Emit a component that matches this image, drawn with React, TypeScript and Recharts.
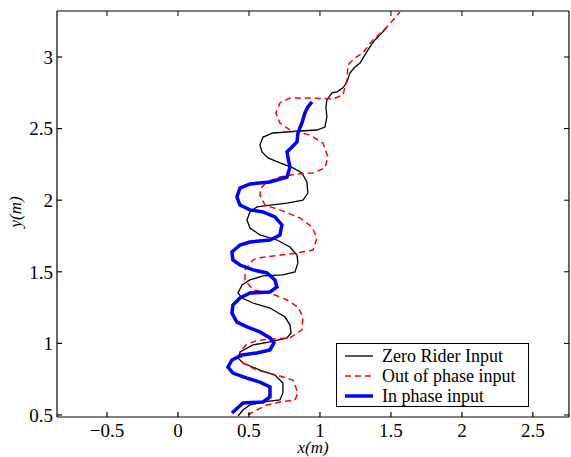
import { LineChart, Line, XAxis, YAxis, Legend, Label, ReferenceLine } from "recharts";

// (x in m, y in m)
const zeroX = [0.423, 0.458, 0.507, 0.599, 0.718, 0.739, 0.739, 0.683, 0.577, 0.458, 0.423, 0.437, 0.528, 0.648, 0.768, 0.796, 0.789, 0.754, 0.648, 0.528, 0.451, 0.423, 0.451, 0.507, 0.599, 0.739, 0.824, 0.845, 0.838, 0.789, 0.697, 0.577, 0.507, 0.486, 0.507, 0.556, 0.648, 0.768, 0.880, 0.915, 0.908, 0.873, 0.810, 0.718, 0.634, 0.592, 0.577, 0.599, 0.669, 0.768, 0.859, 0.979, 1.035, 1.049, 1.042, 1.049, 1.085, 1.120, 1.162, 1.190, 1.211, 1.246, 1.282, 1.317, 1.352, 1.387, 1.437, 1.472];
const zeroY = [0.493, 0.535, 0.570, 0.591, 0.605, 0.654, 0.723, 0.779, 0.814, 0.863, 0.898, 0.940, 0.989, 1.010, 1.038, 1.073, 1.128, 1.184, 1.247, 1.282, 1.317, 1.352, 1.408, 1.443, 1.471, 1.478, 1.499, 1.561, 1.617, 1.673, 1.722, 1.757, 1.806, 1.862, 1.918, 1.953, 1.966, 1.980, 2.001, 2.050, 2.127, 2.190, 2.225, 2.260, 2.295, 2.337, 2.385, 2.441, 2.469, 2.476, 2.483, 2.490, 2.511, 2.581, 2.651, 2.700, 2.749, 2.756, 2.784, 2.825, 2.888, 2.930, 2.958, 3.014, 3.070, 3.119, 3.168, 3.209];

const outX = [0.493, 0.556, 0.627, 0.718, 0.824, 0.845, 0.810, 0.697, 0.556, 0.458, 0.437, 0.486, 0.549, 0.648, 0.789, 0.873, 0.880, 0.845, 0.768, 0.648, 0.528, 0.472, 0.472, 0.528, 0.556, 0.669, 0.838, 0.951, 0.979, 0.944, 0.859, 0.718, 0.613, 0.577, 0.585, 0.627, 0.718, 0.838, 0.951, 1.035, 1.056, 1.021, 0.930, 0.789, 0.718, 0.690, 0.718, 0.789, 0.930, 1.092, 1.162, 1.190, 1.197, 1.246, 1.303, 1.373, 1.472, 1.563];
const outY = [0.500, 0.535, 0.570, 0.591, 0.605, 0.654, 0.744, 0.779, 0.814, 0.863, 0.940, 0.996, 1.017, 1.031, 1.038, 1.094, 1.184, 1.254, 1.303, 1.352, 1.373, 1.443, 1.513, 1.582, 1.596, 1.610, 1.631, 1.652, 1.736, 1.813, 1.876, 1.932, 1.966, 2.036, 2.085, 2.127, 2.162, 2.183, 2.190, 2.225, 2.302, 2.399, 2.455, 2.490, 2.539, 2.609, 2.679, 2.714, 2.714, 2.707, 2.735, 2.839, 2.944, 2.993, 3.028, 3.119, 3.209, 3.314];

const inX = [0.380, 0.458, 0.599, 0.648, 0.648, 0.577, 0.486, 0.387, 0.352, 0.380, 0.451, 0.556, 0.648, 0.676, 0.648, 0.577, 0.486, 0.415, 0.380, 0.387, 0.437, 0.507, 0.648, 0.697, 0.683, 0.627, 0.528, 0.437, 0.387, 0.380, 0.437, 0.507, 0.648, 0.718, 0.732, 0.683, 0.599, 0.507, 0.437, 0.415, 0.437, 0.507, 0.648, 0.768, 0.789, 0.775, 0.768, 0.803, 0.838, 0.845, 0.873, 0.894, 0.915, 0.944];
const inY = [0.514, 0.584, 0.591, 0.626, 0.696, 0.730, 0.758, 0.793, 0.835, 0.884, 0.919, 0.933, 0.954, 1.003, 1.038, 1.080, 1.115, 1.149, 1.212, 1.268, 1.317, 1.352, 1.359, 1.394, 1.443, 1.492, 1.513, 1.547, 1.582, 1.638, 1.687, 1.708, 1.722, 1.757, 1.827, 1.883, 1.918, 1.932, 1.966, 2.022, 2.085, 2.113, 2.127, 2.162, 2.232, 2.295, 2.337, 2.372, 2.406, 2.469, 2.539, 2.609, 2.651, 2.686];

const xTicks = [-0.5, 0, 0.5, 1, 1.5, 2, 2.5];
const yTicks = [0.5, 1, 1.5, 2, 2.5, 3];
const xDomain: [number, number] = [-0.852, 2.754];
const yDomain: [number, number] = [0.486, 3.321];

const toPoints = (xs: number[], ys: number[]) => xs.map((x, i) => ({ x, y: ys[i] }));

const series = [
  { name: "Zero Rider Input", data: toPoints(zeroX, zeroY), color: "#000000", width: 1.3, dash: undefined },
  { name: "Out of phase input", data: toPoints(outX, outY), color: "#ff0000", width: 1.5, dash: "6 4" },
  { name: "In phase input", data: toPoints(inX, inY), color: "#0000ff", width: 3.5, dash: undefined }
];

const font = '"Liberation Serif", "Times New Roman", serif';
const fmt = (v: number) => (v < 0 ? "\u2212" + Math.abs(v) : String(v));

// inward tick length of the top / right frame, in data units (5px)
const tickX = (5 * (xDomain[1] - xDomain[0])) / 512;
const tickY = (5 * (yDomain[1] - yDomain[0])) / 406;

function LegendBox() {
  return (
    <div style={legendBox}>
      {series.map((s) => (
        <div key={s.name} style={{ display: "flex", alignItems: "center", height: 20 }}>
          <svg width={28} height={6} style={{ marginRight: 9 }}>
            <line x1={0} y1={3} x2={28} y2={3} stroke={s.color}
              strokeWidth={s.width} strokeDasharray={s.dash} />
          </svg>
          <span>{s.name}</span>
        </div>
      ))}
    </div>
  );
}

export default function App() {
  return (
    <div style={{ position: "absolute", left: 0, top: 0, background: "#fff", fontFamily: font }}>
      <LineChart width={571} height={457} margin={{ top: 11, right: 2, bottom: 0, left: 0 }}>
        <XAxis dataKey="x" type="number" domain={xDomain} ticks={xTicks}
          allowDataOverflow height={40} tickSize={-5} tickMargin={12}
          tickFormatter={fmt} stroke="#000" strokeWidth={1.2}
          tick={{ fill: "#000", fontFamily: font, fontSize: 19 }}>
          <Label content={() => (
            <text x={313} y={453} textAnchor="middle" fontFamily={font}
              fontStyle="italic" fontSize={17} fill="#000">x(m)</text>
          )} />
        </XAxis>
        <YAxis dataKey="y" type="number" domain={yDomain} ticks={yTicks}
          allowDataOverflow width={57} tickSize={-5} tickMargin={9}
          tickFormatter={fmt} stroke="#000" strokeWidth={1.2}
          tick={{ fill: "#000", fontFamily: font, fontSize: 19 }}>
          <Label content={() => (
            <text x={21} y={212} transform="rotate(-90 21 212)" textAnchor="middle"
              fontFamily={font} fontStyle="italic" fontSize={17} fill="#000">y(m)</text>
          )} />
        </YAxis>

        {/* box frame with inward ticks, as in the MATLAB figure */}
        <ReferenceLine y={yDomain[1]} stroke="#000" strokeWidth={1.2} />
        <ReferenceLine x={xDomain[1]} stroke="#000" strokeWidth={1.2} />
        {xTicks.map((t) => (
          <ReferenceLine key={"tx" + t} stroke="#000" strokeWidth={1}
            segment={[{ x: t, y: yDomain[1] }, { x: t, y: yDomain[1] - tickY }]} />
        ))}
        {yTicks.map((t) => (
          <ReferenceLine key={"ty" + t} stroke="#000" strokeWidth={1}
            segment={[{ x: xDomain[1], y: t }, { x: xDomain[1] - tickX, y: t }]} />
        ))}

        {series.map((s) => (
          <Line key={s.name} data={s.data} dataKey="y" name={s.name} type="linear"
            stroke={s.color} strokeWidth={s.width} strokeDasharray={s.dash}
            dot={false} activeDot={false} isAnimationActive={false} />
        ))}
        <Legend layout="vertical" align="center" verticalAlign="middle"
          wrapperStyle={{ left: 336, top: 343, width: "auto" }} content={() => <LegendBox />} />
      </LineChart>
    </div>
  );
}

const legendBox = {
  boxSizing: "border-box" as const,
  width: 193,
  height: 64,
  border: "1.3px solid #000",
  background: "#fff",
  padding: "2px 0 0 8px",
  fontFamily: font,
  fontSize: 18,
  color: "#000",
  lineHeight: "20px"
};
